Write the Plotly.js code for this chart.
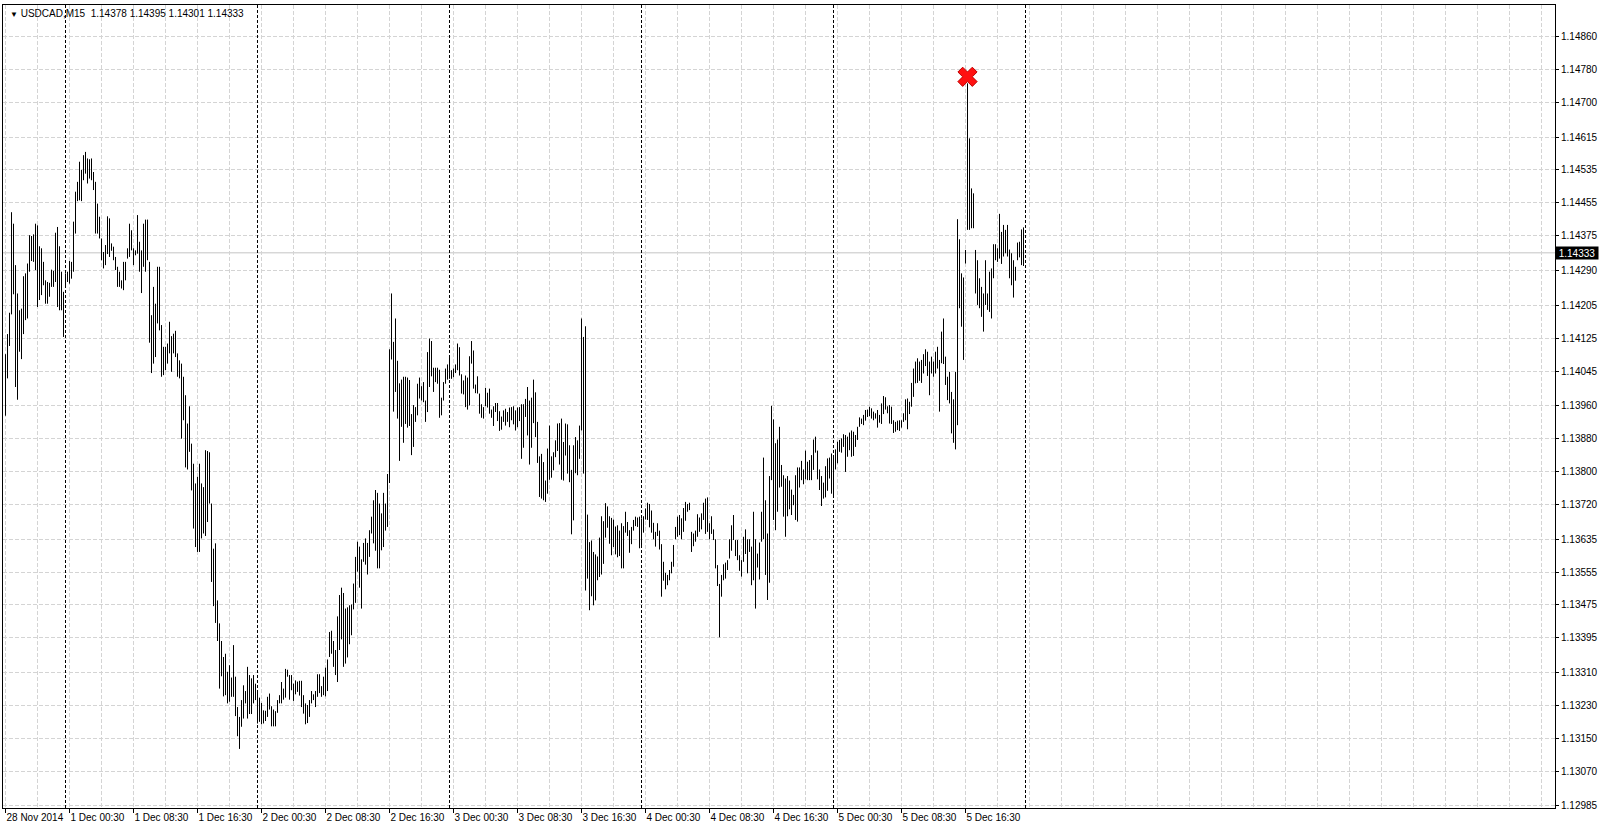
<!DOCTYPE html>
<html><head><meta charset="utf-8">
<script src="https://cdn.plot.ly/plotly-3.0.1.min.js"></script>
<style>html,body{margin:0;padding:0;background:#fff;}#chart{width:1600px;height:828px;}</style>
</head><body><div id="chart"></div>
<script>
// ---------- data ----------
const symbol = 'USDCAD';
const timeframe = 'M15';
const lastOHLC = [1.14378, 1.14395, 1.14301, 1.14333]; // open, high, low, close of last bar
const firstBarUTC = [2014, 10, 28, 16, 30];           // 28 Nov 2014 16:30
const barMinutes = 15;

// Fri 28 Nov (from 16:30)
const highFri28 = [
  1.14086,1.14135,1.14187,1.14432,1.14404,1.14303,1.14234,1.14193,
  1.14197,1.14276,1.14283,1.14307,1.14376,1.14374,1.14378,1.14404,
  1.14400,1.14349,1.14344,1.14311,1.14266,1.14262,1.14260,1.14292,
  1.14289,1.14382,1.14396,1.14349,1.14287,1.14238];
const lowFri28 = [
  1.13936,1.14027,1.14106,1.14183,1.14232,1.14006,1.13975,1.14092,
  1.14074,1.14135,1.14169,1.14173,1.14287,1.14313,1.14311,1.14291,
  1.14201,1.14218,1.14230,1.14254,1.14209,1.14209,1.14226,1.14250,
  1.14250,1.14262,1.14201,1.14193,1.14193,1.14128];

// Mon 1 Dec
const highMon1 = [
  1.14283,1.14287,1.14313,1.14311,1.14409,1.14482,1.14506,1.14555,
  1.14535,1.14571,1.14579,1.14563,1.14561,1.14563,1.14530,1.14506,
  1.14453,1.14421,1.14368,1.14335,1.14352,1.14422,1.14417,1.14356,
  1.14348,1.14323,1.14299,1.14287,1.14266,1.14311,1.14311,1.14344,
  1.14404,1.14388,1.14344,1.14339,1.14425,1.14360,1.14339,1.14404,
  1.14414,1.14414,1.14311,1.14181,1.14250,1.14209,1.14299,1.14299,
  1.14157,1.14104,1.14104,1.14112,1.14165,1.14130,1.14136,1.14143,
  1.14088,1.14071,1.14063,1.14031,1.13986,1.13917,1.13959,1.13868,
  1.13819,1.13771,1.13787,1.13819,1.13771,1.13762,1.13852,1.13850,
  1.13847,1.13722,1.13612,1.13625,1.13486,1.13430,1.13387,1.13348,
  1.13356,1.13312,1.13328,1.13298,1.13377,1.13300,1.13226,1.13202,
  1.13243,1.13279,1.13265,1.13324,1.13304,1.13296,1.13304,1.13283];
const lowMon1 = [
  1.14250,1.14262,1.14258,1.14270,1.14287,1.14380,1.14459,1.14461,
  1.14459,1.14510,1.14526,1.14502,1.14514,1.14510,1.14486,1.14380,
  1.14380,1.14368,1.14315,1.14295,1.14303,1.14330,1.14323,1.14338,
  1.14315,1.14291,1.14250,1.14250,1.14246,1.14242,1.14266,1.14319,
  1.14323,1.14339,1.14303,1.14327,1.14331,1.14287,1.14235,1.14299,
  1.14287,1.14315,1.14114,1.14040,1.14063,1.14079,1.14161,1.14144,
  1.14031,1.14035,1.14047,1.14063,1.14088,1.14043,1.14088,1.14079,
  1.14031,1.14027,1.13880,1.13925,1.13810,1.13805,1.13848,1.13754,
  1.13661,1.13616,1.13604,1.13604,1.13637,1.13649,1.13643,1.13677,
  1.13722,1.13531,1.13472,1.13431,1.13387,1.13271,1.13301,1.13252,
  1.13255,1.13235,1.13239,1.13251,1.13251,1.13204,1.13155,1.13124,
  1.13178,1.13198,1.13235,1.13198,1.13209,1.13209,1.13235,1.13243];

// Tue 2 Dec
const highTue2 = [
  1.13267,1.13249,1.13236,1.13218,1.13217,1.13251,1.13259,1.13228,
  1.13220,1.13216,1.13243,1.13255,1.13287,1.13271,1.13319,1.13317,
  1.13304,1.13304,1.13283,1.13291,1.13288,1.13290,1.13290,1.13255,
  1.13235,1.13231,1.13243,1.13265,1.13257,1.13265,1.13306,1.13306,
  1.13277,1.13300,1.13322,1.13342,1.13409,1.13412,1.13387,1.13365,
  1.13447,1.13499,1.13517,1.13504,1.13466,1.13469,1.13474,1.13476,
  1.13527,1.13592,1.13629,1.13617,1.13586,1.13626,1.13637,1.13626,
  1.13657,1.13690,1.13730,1.13755,1.13748,1.13722,1.13698,1.13748,
  1.13722,1.13794,1.14098,1.14234,1.14116,1.14173,1.14070,1.14015,
  1.14024,1.14031,1.14031,1.14029,1.14023,1.13940,1.13962,1.13957,
  1.14014,1.14029,1.14008,1.14018,1.13973,1.14091,1.14124,1.14118,
  1.14053,1.14053,1.14053,1.14048,1.13980,1.14018,1.14051,1.14061];
const lowTue2 = [
  1.13186,1.13190,1.13184,1.13186,1.13192,1.13202,1.13220,1.13179,
  1.13179,1.13179,1.13212,1.13235,1.13235,1.13244,1.13249,1.13300,
  1.13244,1.13267,1.13241,1.13257,1.13263,1.13254,1.13226,1.13210,
  1.13184,1.13187,1.13202,1.13235,1.13243,1.13226,1.13251,1.13260,
  1.13251,1.13255,1.13252,1.13265,1.13348,1.13356,1.13324,1.13304,
  1.13287,1.13365,1.13391,1.13324,1.13332,1.13347,1.13379,1.13401,
  1.13464,1.13480,1.13556,1.13517,1.13466,1.13580,1.13573,1.13549,
  1.13592,1.13649,1.13625,1.13607,1.13564,1.13564,1.13608,1.13616,
  1.13656,1.13665,1.13772,1.14073,1.13946,1.13994,1.13929,1.13826,
  1.13909,1.13870,1.13916,1.13907,1.13911,1.13840,1.13860,1.13921,
  1.13937,1.13978,1.13973,1.13969,1.13921,1.13945,1.14006,1.14032,
  1.13994,1.14018,1.14014,1.13931,1.13937,1.13973,1.14014,1.14024];

// Wed 3 Dec
const highWed3 = [
  1.14077,1.14047,1.14051,1.14061,1.14112,1.14103,1.14037,1.14022,
  1.14034,1.14029,1.14081,1.14118,1.14095,1.14012,1.14032,1.13990,
  1.13964,1.13957,1.14004,1.13992,1.14002,1.13951,1.13959,1.13967,
  1.13967,1.13947,1.13934,1.13949,1.13953,1.13945,1.13956,1.13957,
  1.13959,1.13949,1.13956,1.13957,1.13964,1.13964,1.13977,1.14006,
  1.13973,1.13980,1.14024,1.13993,1.13921,1.13837,1.13843,1.13823,
  1.13778,1.13856,1.13912,1.13837,1.13847,1.13876,1.13917,1.13918,
  1.13929,1.13872,1.13917,1.13915,1.13864,1.13804,1.13864,1.13884,
  1.13876,1.13912,1.14173,1.14128,1.14154,1.13695,1.13628,1.13632,
  1.13604,1.13598,1.13593,1.13639,1.13691,1.13679,1.13723,1.13715,
  1.13691,1.13687,1.13683,1.13666,1.13669,1.13656,1.13674,1.13667,
  1.13702,1.13677,1.13657,1.13665,1.13682,1.13690,1.13688,1.13690];
const lowWed3 = [
  1.14026,1.14026,1.14030,1.14040,1.14047,1.14034,1.13990,1.13988,
  1.13957,1.13951,1.13961,1.14063,1.14002,1.13991,1.13990,1.13941,
  1.13931,1.13929,1.13959,1.13956,1.13941,1.13931,1.13911,1.13945,
  1.13923,1.13899,1.13902,1.13921,1.13912,1.13921,1.13908,1.13925,
  1.13915,1.13900,1.13908,1.13923,1.13831,1.13858,1.13933,1.13888,
  1.13817,1.13858,1.13918,1.13884,1.13821,1.13738,1.13734,1.13730,
  1.13726,1.13746,1.13780,1.13785,1.13803,1.13835,1.13850,1.13817,
  1.13780,1.13778,1.13839,1.13795,1.13774,1.13647,1.13681,1.13796,
  1.13791,1.13831,1.13900,1.13795,1.13510,1.13539,1.13462,1.13496,
  1.13474,1.13486,1.13535,1.13543,1.13549,1.13575,1.13639,1.13663,
  1.13624,1.13596,1.13616,1.13598,1.13591,1.13594,1.13564,1.13564,
  1.13651,1.13643,1.13602,1.13623,1.13656,1.13667,1.13665,1.13613];

// Thu 4 Dec
const highThu4 = [
  1.13686,1.13691,1.13710,1.13724,1.13721,1.13705,1.13675,1.13653,
  1.13674,1.13656,1.13623,1.13580,1.13553,1.13548,1.13560,1.13580,
  1.13621,1.13665,1.13690,1.13694,1.13686,1.13711,1.13726,1.13721,
  1.13724,1.13653,1.13649,1.13656,1.13696,1.13688,1.13698,1.13724,
  1.13734,1.13737,1.13674,1.13691,1.13659,1.13635,1.13572,1.13526,
  1.13548,1.13574,1.13578,1.13584,1.13635,1.13669,1.13694,1.13633,
  1.13633,1.13596,1.13584,1.13641,1.13659,1.13635,1.13635,1.13617,
  1.13702,1.13635,1.13600,1.13627,1.13702,1.13834,1.13730,1.13649,
  1.13789,1.13960,1.13927,1.13869,1.13878,1.13909,1.13816,1.13791,
  1.13783,1.13789,1.13778,1.13756,1.13743,1.13791,1.13810,1.13810,
  1.13826,1.13805,1.13851,1.13824,1.13828,1.13840,1.13878,1.13885,
  1.13851,1.13805,1.13789,1.13773,1.13813,1.13832,1.13834,1.13844];
const lowThu4 = [
  1.13617,1.13651,1.13683,1.13682,1.13664,1.13651,1.13635,1.13617,
  1.13643,1.13610,1.13495,1.13534,1.13513,1.13523,1.13535,1.13552,
  1.13568,1.13635,1.13641,1.13645,1.13635,1.13653,1.13680,1.13702,
  1.13706,1.13604,1.13618,1.13629,1.13641,1.13653,1.13659,1.13682,
  1.13648,1.13653,1.13635,1.13648,1.13633,1.13564,1.13521,1.13396,
  1.13495,1.13535,1.13539,1.13560,1.13588,1.13607,1.13633,1.13594,
  1.13584,1.13558,1.13544,1.13580,1.13599,1.13552,1.13604,1.13523,
  1.13535,1.13466,1.13566,1.13537,1.13629,1.13635,1.13548,1.13487,
  1.13529,1.13779,1.13682,1.13657,1.13702,1.13761,1.13763,1.13690,
  1.13641,1.13691,1.13708,1.13694,1.13718,1.13682,1.13678,1.13761,
  1.13779,1.13769,1.13781,1.13779,1.13779,1.13779,1.13804,1.13846,
  1.13781,1.13755,1.13716,1.13734,1.13737,1.13753,1.13783,1.13746];

// Fri 5 Dec
const highFri5 = [
  1.13836,1.13854,1.13873,1.13877,1.13881,1.13891,1.13889,1.13885,
  1.13895,1.13900,1.13897,1.13889,1.13909,1.13932,1.13929,1.13938,
  1.13950,1.13951,1.13958,1.13954,1.13946,1.13942,1.13950,1.13938,
  1.13966,1.13984,1.13981,1.13959,1.13962,1.13958,1.13925,1.13921,
  1.13924,1.13925,1.13925,1.13942,1.13976,1.13978,1.13970,1.14016,
  1.14051,1.14068,1.14076,1.14068,1.14072,1.14086,1.14098,1.14092,
  1.14068,1.14080,1.14068,1.14092,1.14104,1.14072,1.14141,1.14173,
  1.14080,1.14031,1.14043,1.13994,1.13976,1.14043,1.14415,1.14366,
  1.14283,1.14273,1.14340,1.14746,1.14612,1.14490,1.14478,1.14340,
  1.14315,1.14271,1.14250,1.14234,1.14315,1.14234,1.14287,1.14295,
  1.14354,1.14354,1.14344,1.14428,1.14384,1.14401,1.14389,1.14401,
  1.14341,1.14332,1.14315,1.14299,1.14358,1.14360,1.14390,1.14395];
const lowFri5 = [
  1.13738,1.13805,1.13820,1.13848,1.13846,1.13860,1.13799,1.13836,
  1.13852,1.13836,1.13838,1.13860,1.13877,1.13909,1.13916,1.13913,
  1.13924,1.13933,1.13935,1.13929,1.13925,1.13929,1.13907,1.13919,
  1.13916,1.13940,1.13951,1.13942,1.13917,1.13916,1.13894,1.13897,
  1.13901,1.13899,1.13907,1.13921,1.13925,1.13903,1.13940,1.13958,
  1.13982,1.14015,1.14016,1.14021,1.14016,1.14039,1.14057,1.14033,
  1.13986,1.14039,1.14031,1.14039,1.14051,1.13946,1.14064,1.14062,
  1.14011,1.13974,1.13966,1.13893,1.13870,1.13854,1.13913,1.14198,
  1.14153,1.14072,1.14307,1.14389,1.14389,1.14393,1.14393,1.14234,
  1.14206,1.14198,1.14177,1.14141,1.14206,1.14194,1.14189,1.14173,
  1.14271,1.14315,1.14311,1.14319,1.14306,1.14324,1.14332,1.14324,
  1.14271,1.14254,1.14224,1.14265,1.14315,1.14322,1.14303,1.14301];

// price scale tick labels (as printed on the right axis)
const yTicks = [1.14860,1.14780,1.14700,1.14615,1.14535,1.14455,1.14375,1.14290,
  1.14205,1.14125,1.14045,1.13960,1.13880,1.13800,1.13720,1.13635,1.13555,1.13475,
  1.13395,1.13310,1.13230,1.13150,1.13070,1.12985];
// time scale labels
const xTickLabels = ['28 Nov 2014','1 Dec 00:30','1 Dec 08:30','1 Dec 16:30',
  '2 Dec 00:30','2 Dec 08:30','2 Dec 16:30','3 Dec 00:30','3 Dec 08:30','3 Dec 16:30',
  '4 Dec 00:30','4 Dec 08:30','4 Dec 16:30','5 Dec 00:30','5 Dec 08:30','5 Dec 16:30'];
// red "X" arrow object
const signalTime = '5 Dec 16:45';
const signalPrice = 1.14762;

// ---------- build ----------
const highs = [].concat(highFri28, highMon1, highTue2, highWed3, highThu4, highFri5);
const lows  = [].concat(lowFri28, lowMon1, lowTue2, lowWed3, lowThu4, lowFri5);
const n = highs.length;
const months = ['Jan','Feb','Mar','Apr','May','Jun','Jul','Aug','Sep','Oct','Nov','Dec'];
const pad = v => String(v).padStart(2, '0');

const times = [];
let t = Date.UTC(...firstBarUTC);
for (let i = 0; i <= n; i++) {
  times.push(t);
  t += barMinutes * 60000;
  if (new Date(t).getUTCDay() === 6) t += 2 * 86400000; // skip the weekend
}
const barLabel = ms => { const d = new Date(ms);
  return d.getUTCDate() + ' ' + months[d.getUTCMonth()] + ' ' + pad(d.getUTCHours()) + ':' + pad(d.getUTCMinutes()); };
const barLabels = times.map(barLabel);

const tickVals = xTickLabels.map((l, k) => k === 0 ? 0 : barLabels.indexOf(l));

// day separators
const separators = [];
for (let i = 1; i <= n; i++) {
  if (new Date(times[i]).getUTCDate() !== new Date(times[i - 1]).getUTCDate()) separators.push(i);
}

// bar segments (high-low)
const xs = [], ys = [];
for (let i = 0; i < n; i++) { xs.push(i, i, null); ys.push(lows[i], highs[i], null); }

const sigIdx = barLabels.indexOf(signalTime);
const lastClose = lastOHLC[3];

const font = 'Liberation Sans, Arial, sans-serif';
const gridColor = '#d4d4d4';

const traces = [
  { type: 'scatter', mode: 'lines', x: xs, y: ys, connectgaps: false,
    line: { color: '#000000', width: 1 }, hoverinfo: 'skip' },
  { type: 'scatter', mode: 'markers', x: [sigIdx], y: [signalPrice], hoverinfo: 'skip',
    marker: { symbol: 'x', size: 17, color: '#ff1111', line: { color: '#c00000', width: 1 } } }
];

const shapes = separators.map(i => ({
  type: 'line', xref: 'x', yref: 'paper', x0: i, x1: i, y0: 0, y1: 1,
  line: { color: '#000000', width: 1, dash: '3px,2px' }, layer: 'above'
}));
shapes.push({ type: 'line', xref: 'paper', yref: 'y', x0: 0, x1: 1, y0: lastClose, y1: lastClose,
  line: { color: '#c4c4c4', width: 1 }, layer: 'below' });

const annotations = [
  { xref: 'paper', yref: 'paper', x: 0, y: 1, xanchor: 'left', yanchor: 'top', xshift: 5, yshift: -1,
    showarrow: false, align: 'left',
    text: '<span style="font-size:8px">▼</span>\u00a0' + symbol + ',' + timeframe + '\u00a0\u00a0' +
          lastOHLC.map(v => v.toFixed(5)).join('\u00a0'),
    font: { family: font, size: 10, color: '#000' } },
  { xref: 'paper', yref: 'y', x: 1, y: lastClose, xanchor: 'left', yanchor: 'middle',
    showarrow: false, text: lastClose.toFixed(5), bgcolor: '#000000', borderpad: 0,
    width: 42, height: 12, align: 'center',
    font: { family: font, size: 10, color: '#ffffff' } }
];

const layout = {
  width: 1600, height: 828,
  margin: { l: 3, r: 45, t: 5, b: 20, pad: 0 },
  paper_bgcolor: '#ffffff', plot_bgcolor: '#ffffff',
  showlegend: false, hovermode: false,
  xaxis: {
    range: [-1.25, 774.75], tickmode: 'array', tickvals: tickVals, ticktext: xTickLabels,
    tickangle: 0, automargin: false,
    ticks: 'outside', ticklen: 4, tickcolor: '#000', tickwidth: 1,
    ticklabelposition: 'outside right',
    tickfont: { family: font, size: 10, color: '#000' },
    showgrid: true, gridcolor: gridColor, griddash: '4px,2px', gridwidth: 1,
    minor: { tickmode: 'linear', tick0: 0, dtick: 16, showgrid: true, gridcolor: gridColor,
             griddash: '4px,2px', gridwidth: 1, ticks: '' },
    showline: true, linecolor: '#000', linewidth: 1, mirror: true,
    zeroline: false, fixedrange: true
  },
  yaxis: {
    side: 'right', range: [1.12980, 1.14937], tickmode: 'array', tickvals: yTicks,
    automargin: false,
    tickformat: '.5f', ticks: 'outside', ticklen: 3, tickcolor: '#000',
    tickfont: { family: font, size: 10, color: '#000' },
    showgrid: true, gridcolor: gridColor, griddash: '4px,2px', gridwidth: 1,
    showline: true, linecolor: '#000', linewidth: 1, mirror: true,
    zeroline: false, fixedrange: true
  },
  shapes: shapes,
  annotations: annotations
};

Plotly.newPlot('chart', traces, layout, { staticPlot: true, displayModeBar: false });
</script>
</body></html>
